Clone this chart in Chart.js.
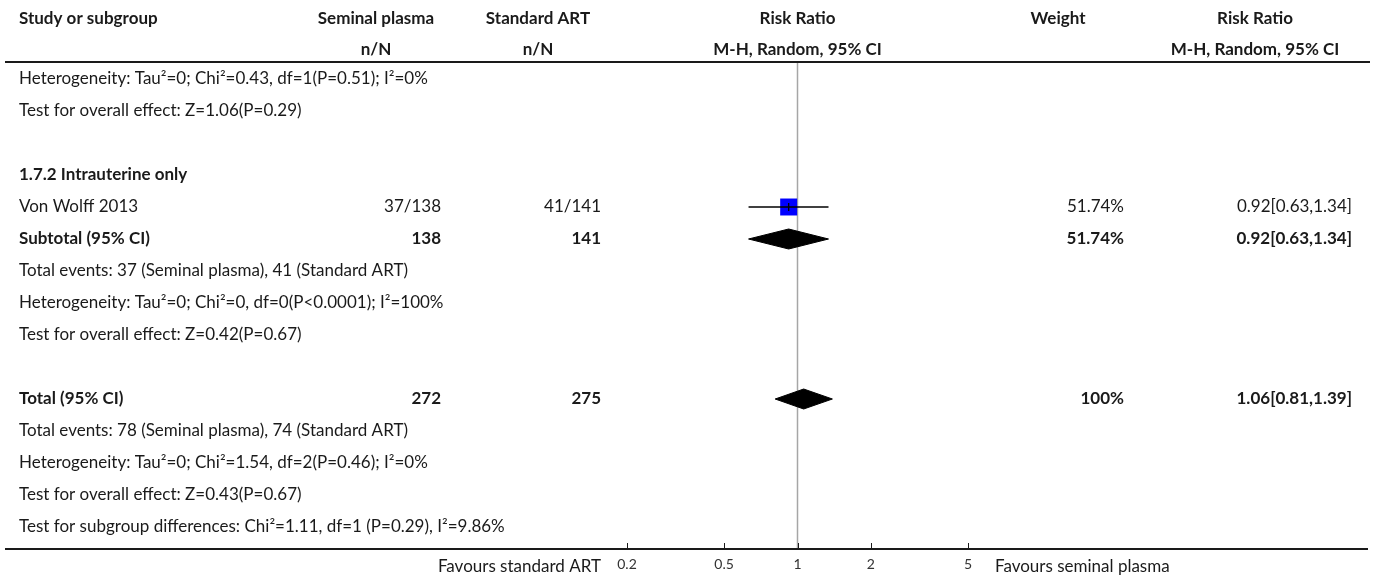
<!DOCTYPE html>
<html>
<head>
<meta charset="utf-8">
<title>Forest plot - Seminal plasma vs Standard ART</title>
<script src="https://cdn.jsdelivr.net/npm/chart.js@4.4.0/dist/chart.umd.min.js"></script>
<style>
  body { margin: 0; background: #fff; }
  canvas { display: block; }
</style>
</head>
<body>
<canvas id="forest" width="1375" height="581"></canvas>
<script>
// Forest plot data
const FONT = 'Lato, "Noto Sans", sans-serif';

const rowLabels = [
    'Heterogeneity: Tau²=0; Chi²=0.43, df=1(P=0.51); I²=0%',
    'Test for overall effect: Z=1.06(P=0.29)',
    '',
    '1.7.2 Intrauterine only',
    'Von Wolff 2013',
    'Subtotal (95% CI)',
    'Total events: 37 (Seminal plasma), 41 (Standard ART)',
    'Heterogeneity: Tau²=0; Chi²=0, df=0(P<0.0001); I²=100%',
    'Test for overall effect: Z=0.42(P=0.67)',
    '',
    'Total (95% CI)',
    'Total events: 78 (Seminal plasma), 74 (Standard ART)',
    'Heterogeneity: Tau²=0; Chi²=1.54, df=2(P=0.46); I²=0%',
    'Test for overall effect: Z=0.43(P=0.67)',
    'Test for subgroup differences: Chi²=1.11, df=1 (P=0.29), I²=9.86%'
];
const boldRows = [3, 5, 10];

// table columns (rows that carry numbers)
const valueRows = [4, 5, 10];
const seminalPlasma = ['37/138', '138', '272'];
const standardArt = ['41/141', '141', '275'];
const weights = ['51.74%', '51.74%', '100%'];
const riskRatios = ['0.92[0.63,1.34]', '0.92[0.63,1.34]', '1.06[0.81,1.39]'];

// single studies
const studyRows = [4];
const studyRR = [0.92];
const studyLow = [0.63];
const studyHigh = [1.34];

// pooled estimates (diamonds)
const pooledRows = [5, 10];
const pooledRR = [0.92, 1.06];
const pooledLow = [0.63, 0.81];
const pooledHigh = [1.34, 1.39];

const xTicks = [0.2, 0.5, 1, 2, 5];

// layout
const COL = {
    label: 19,
    seminalHead: 376, seminalRight: 441,
    standardHead: 538, standardRight: 601,
    weightHead: 1058, weightRight: 1124,
    rrHead: 1255, rrRight: 1352
};
const HEAD_Y1 = 19, HEAD_Y2 = 50;
const TOP_LINE = 62, AXIS_LINE = 549;
const ROW_H = 32;
const DIAMOND_H = 10 / ROW_H;
const FONT_SIZE = 17;

const datasets = [];

// estimate ticks inside the squares
datasets.push({
    data: studyRows.map((r, i) => ({ x: studyRR[i], y: r })),
    pointStyle: 'line', rotation: 90, pointRadius: 4,
    borderColor: '#000', borderWidth: 1.3
});
// confidence interval lines
studyRows.forEach((r, i) => {
    datasets.push({
        data: [{ x: studyLow[i], y: r }, { x: studyHigh[i], y: r }],
        showLine: true, borderColor: '#000', borderWidth: 1.3, pointRadius: 0
    });
});
// squares
datasets.push({
    data: studyRows.map((r, i) => ({ x: studyRR[i], y: r })),
    pointStyle: 'rect', pointRadius: 12,
    backgroundColor: '#0000ff', borderWidth: 0
});
// diamonds
pooledRows.forEach((r, i) => {
    datasets.push({
        data: [
            { x: pooledLow[i], y: r },
            { x: pooledRR[i], y: r - DIAMOND_H },
            { x: pooledHigh[i], y: r },
            { x: pooledRR[i], y: r + DIAMOND_H },
            { x: pooledLow[i], y: r }
        ],
        showLine: true, fill: 'shape', tension: 0,
        backgroundColor: '#000', borderColor: '#000', borderWidth: 1, pointRadius: 0
    });
});

function text(ctx, str, x, y, align, bold, size) {
    ctx.font = (bold ? 'bold ' : '') + (size || FONT_SIZE) + 'px ' + FONT;
    ctx.textAlign = align;
    ctx.fillText(str, x, y);
}

const forestPlugin = {
    id: 'forest',
    beforeDatasetsDraw(chart) {
        const ctx = chart.ctx;
        const xs = chart.scales.x;
        ctx.save();
        // line of no effect
        ctx.strokeStyle = '#a6a6a6';
        ctx.lineWidth = 1.5;
        ctx.beginPath();
        ctx.moveTo(xs.getPixelForValue(1), TOP_LINE);
        ctx.lineTo(xs.getPixelForValue(1), AXIS_LINE);
        ctx.stroke();
        // header rule and axis rule
        ctx.strokeStyle = '#1a1a1a';
        ctx.lineWidth = 2;
        ctx.beginPath();
        ctx.moveTo(5, TOP_LINE); ctx.lineTo(1370, TOP_LINE);
        ctx.moveTo(5, AXIS_LINE); ctx.lineTo(1368, AXIS_LINE);
        ctx.stroke();
        // tick marks
        ctx.lineWidth = 1;
        ctx.beginPath();
        xTicks.forEach(t => {
            const px = Math.round(xs.getPixelForValue(t)) + 0.5;
            ctx.moveTo(px, AXIS_LINE);
            ctx.lineTo(px, AXIS_LINE - 6);
        });
        ctx.stroke();
        ctx.restore();
    },
    afterDraw(chart) {
        const ctx = chart.ctx;
        const xs = chart.scales.x;
        const ys = chart.scales.y;
        const x1 = xs.getPixelForValue(1);
        ctx.save();
        ctx.fillStyle = '#1a1a1a';
        ctx.textBaseline = 'middle';

        // headers
        text(ctx, 'Study or subgroup', COL.label, HEAD_Y1, 'left', true);
        text(ctx, 'Seminal plasma', COL.seminalHead, HEAD_Y1, 'center', true);
        text(ctx, 'n/N', COL.seminalHead, HEAD_Y2, 'center', true);
        text(ctx, 'Standard ART', COL.standardHead, HEAD_Y1, 'center', true);
        text(ctx, 'n/N', COL.standardHead, HEAD_Y2, 'center', true);
        text(ctx, 'Risk Ratio', x1, HEAD_Y1, 'center', true);
        text(ctx, 'M-H, Random, 95% CI', x1, HEAD_Y2, 'center', true);
        text(ctx, 'Weight', COL.weightHead, HEAD_Y1, 'center', true);
        text(ctx, 'Risk Ratio', COL.rrHead, HEAD_Y1, 'center', true);
        text(ctx, 'M-H, Random, 95% CI', COL.rrHead, HEAD_Y2, 'center', true);

        // row labels
        rowLabels.forEach((lab, r) => {
            if (lab) text(ctx, lab, COL.label, ys.getPixelForValue(r), 'left', boldRows.includes(r));
        });
        // numeric columns
        valueRows.forEach((r, i) => {
            const y = ys.getPixelForValue(r);
            const b = boldRows.includes(r);
            text(ctx, seminalPlasma[i], COL.seminalRight, y, 'right', b);
            text(ctx, standardArt[i], COL.standardRight, y, 'right', b);
            text(ctx, weights[i], COL.weightRight, y, 'right', b);
            text(ctx, riskRatios[i], COL.rrRight, y, 'right', b);
        });

        // axis labels
        ctx.fillStyle = '#333';
        xTicks.forEach(t => text(ctx, String(t), xs.getPixelForValue(t), 564, 'center', false, 14));
        ctx.fillStyle = '#1a1a1a';
        text(ctx, 'Favours standard ART', COL.standardRight, 567, 'right', false);
        text(ctx, 'Favours seminal plasma', 995, 567, 'left', false);
        ctx.restore();
    }
};

const chart = new Chart(document.getElementById('forest'), {
    type: 'scatter',
    data: { datasets: datasets },
    options: {
        responsive: false,
        animation: false,
        events: [],
        layout: { padding: { left: 627, right: 1375 - 968, top: TOP_LINE, bottom: 581 - AXIS_LINE } },
        scales: {
            x: { type: 'logarithmic', min: 0.2, max: 5, display: false },
            y: {
                type: 'linear', reverse: true, display: false,
                min: -(79 - TOP_LINE) / ROW_H,
                max: 14 + (AXIS_LINE - 527) / ROW_H
            }
        },
        plugins: { legend: { display: false }, tooltip: { enabled: false } }
    },
    plugins: [forestPlugin]
});
</script>
</body>
</html>
